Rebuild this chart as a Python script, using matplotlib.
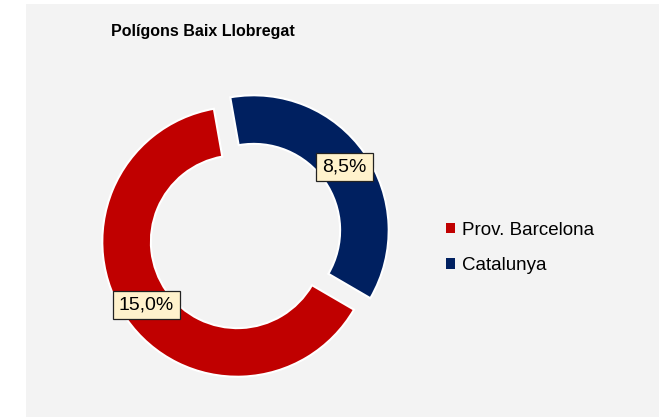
import matplotlib
matplotlib.use("Agg")
import matplotlib.pyplot as plt
from matplotlib.patches import Rectangle, Patch

# ---- data ----
categories = ["Catalunya", "Prov. Barcelona"]
values = [8.5, 15.0]
colors = ["#002060", "#C00000"]
legend_order = ["Prov. Barcelona", "Catalunya"]
title = "Polígons Baix Llobregat"

FONT = ["Liberation Sans", "DejaVu Sans"]
plt.rcParams["font.family"] = FONT

W, H = 659, 417
fig = plt.figure(figsize=(W / 100, H / 100), dpi=100)
fig.patch.set_facecolor("white")

# chart area background
fig.patches.append(Rectangle((26 / W, 0), 1 - 26 / W, 1 - 4 / H,
                             transform=fig.transFigure, facecolor="#F3F3F3",
                             edgecolor="none", zorder=-10))

# donut axes: center (245.5, 236), radius 135 px
cx, cy, R = 245.5, 236.0, 135.0
half = 160.0
L = half / R
ax = fig.add_axes([(cx - half) / W, (H - cy - half) / H, 2 * half / W, 2 * half / H])
ax.patch.set_alpha(0)

total = sum(values)

def fmt(p):
    return ("%.1f%%" % (p * total / 100.0)).replace(".", ",")

wedges, texts, autotexts = ax.pie(
    values, colors=colors, startangle=100, counterclock=False, radius=1.0,
    explode=[0.074, 0.074], autopct=fmt, pctdistance=0.82,
    wedgeprops=dict(width=0.36, edgecolor="white", linewidth=1.5),
    textprops=dict(fontsize=14, color="black", family=FONT))

ax.set_xlim(-L, L)
ax.set_ylim(-L, L)
ax.set_aspect("equal")
ax.axis("off")

for t in autotexts:
    t.set_bbox(dict(boxstyle="square,pad=0.3", facecolor="#FFF2CC",
                    edgecolor="#222222", linewidth=0.9))

# title
fig.text(202.5 / W, 1 - 36 / H, title, ha="center", va="baseline",
         fontsize=11.5, fontweight="bold", family=FONT)

# legend
handle_map = {c: Patch(facecolor=col, edgecolor="none") for c, col in zip(categories, colors)}
handles = [handle_map[c] for c in legend_order]
leg = fig.legend(handles, legend_order, loc="center left",
                 bbox_to_anchor=(445.7 / W, 1 - 248 / H),
                 bbox_transform=fig.transFigure, frameon=False,
                 handlelength=0.48, handleheight=0.48,
                 handletextpad=0.38, labelspacing=1.0, borderpad=0,
                 borderaxespad=0, prop=dict(family=FONT, size=13.5))

fig.savefig("out.png", dpi=100)
